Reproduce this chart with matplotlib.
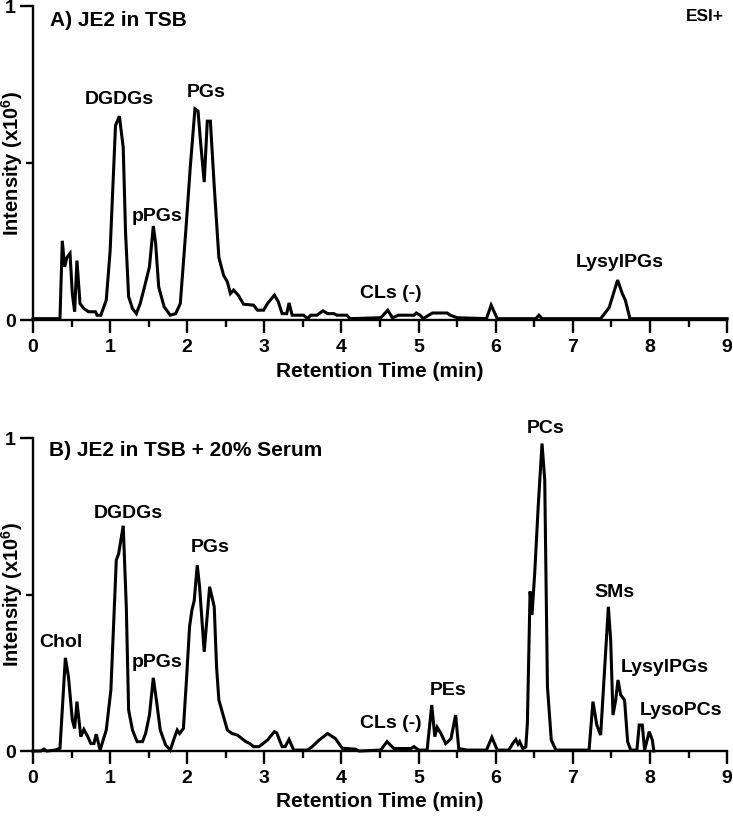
import matplotlib
matplotlib.use("Agg")
import matplotlib.pyplot as plt
from matplotlib.ticker import MultipleLocator

plt.rcParams['font.family'] = ['Liberation Sans', 'DejaVu Sans']
plt.rcParams['font.weight'] = 'bold'
plt.rcParams['mathtext.fontset'] = 'custom'
plt.rcParams['mathtext.rm'] = 'Liberation Sans:bold'
plt.rcParams['mathtext.bf'] = 'Liberation Sans:bold'

# Panel A: JE2 in TSB (retention time in min, intensity x10^6)
time_a = [0.00, 0.35, 0.38, 0.41, 0.44, 0.48, 0.51, 0.54, 0.57, 0.61,
          0.66, 0.72, 0.81, 0.83, 0.88, 0.95, 1.00, 1.07, 1.12, 1.17,
          1.20, 1.24, 1.29, 1.34, 1.39, 1.45, 1.51, 1.56, 1.59, 1.63,
          1.70, 1.78, 1.85, 1.91, 1.98, 2.04, 2.10, 2.14, 2.17, 2.22,
          2.26, 2.30, 2.35, 2.41, 2.47, 2.52, 2.56, 2.60, 2.66, 2.73,
          2.86, 2.91, 2.99, 3.04, 3.13, 3.18, 3.23, 3.29, 3.32, 3.36,
          3.51, 3.56, 3.60, 3.68, 3.76, 3.82, 3.90, 3.94, 4.07, 4.11,
          4.51, 4.60, 4.66, 4.74, 4.94, 4.97, 5.02, 5.06, 5.13, 5.18,
          5.37, 5.41, 5.50, 5.88, 5.94, 6.02, 6.52, 6.56, 6.60, 7.36,
          7.47, 7.58, 7.64, 7.68, 7.74, 9.00]
int_a = [0.005, 0.005, 0.253, 0.170, 0.200, 0.213, 0.085, 0.027, 0.190, 0.053,
         0.037, 0.027, 0.027, 0.016, 0.016, 0.064, 0.220, 0.620, 0.650, 0.550,
         0.280, 0.075, 0.037, 0.021, 0.053, 0.110, 0.170, 0.300, 0.245, 0.106,
         0.043, 0.016, 0.021, 0.053, 0.280, 0.490, 0.673, 0.666, 0.575, 0.440,
         0.634, 0.634, 0.426, 0.200, 0.144, 0.122, 0.085, 0.096, 0.080, 0.051,
         0.048, 0.032, 0.032, 0.053, 0.080, 0.059, 0.021, 0.021, 0.055, 0.016,
         0.016, 0.005, 0.016, 0.016, 0.030, 0.021, 0.021, 0.016, 0.016, 0.005,
         0.008, 0.032, 0.008, 0.016, 0.016, 0.023, 0.016, 0.005, 0.016, 0.023,
         0.023, 0.016, 0.008, 0.005, 0.048, 0.005, 0.005, 0.016, 0.005, 0.005,
         0.040, 0.128, 0.085, 0.064, 0.005, 0.005]

# Panel B: JE2 in TSB + 20% serum
time_b = [0.00, 0.10, 0.14, 0.18, 0.29, 0.35, 0.42, 0.46, 0.51, 0.54,
          0.57, 0.62, 0.66, 0.71, 0.75, 0.79, 0.82, 0.87, 0.95, 1.01,
          1.08, 1.11, 1.17, 1.21, 1.24, 1.29, 1.35, 1.42, 1.46, 1.51,
          1.56, 1.60, 1.65, 1.72, 1.78, 1.83, 1.87, 1.90, 1.95, 1.99,
          2.03, 2.06, 2.09, 2.13, 2.16, 2.22, 2.29, 2.35, 2.38, 2.41,
          2.47, 2.52, 2.58, 2.65, 2.76, 2.81, 2.86, 2.93, 3.04, 3.13,
          3.16, 3.23, 3.27, 3.32, 3.38, 3.56, 3.62, 3.71, 3.82, 3.92,
          4.01, 4.18, 4.23, 4.51, 4.59, 4.68, 4.90, 4.94, 5.00, 5.11,
          5.17, 5.21, 5.24, 5.29, 5.35, 5.38, 5.42, 5.48, 5.52, 5.63,
          5.88, 5.95, 6.02, 6.17, 6.22, 6.26, 6.29, 6.31, 6.35, 6.39,
          6.41, 6.445, 6.47, 6.505, 6.55, 6.60, 6.635, 6.67, 6.72, 6.78,
          7.21, 7.26, 7.31, 7.36, 7.40, 7.46, 7.49, 7.52, 7.555, 7.585,
          7.62, 7.67, 7.71, 7.75, 7.83, 7.86, 7.90, 7.93, 7.99, 8.03,
          8.05]
int_b = [0.0, 0.0, 0.006, 0.0, 0.003, 0.009, 0.298, 0.237, 0.099, 0.072,
         0.158, 0.046, 0.069, 0.046, 0.024, 0.024, 0.054, 0.003, 0.067, 0.195,
         0.610, 0.630, 0.720, 0.460, 0.131, 0.067, 0.030, 0.030, 0.056, 0.115,
         0.234, 0.163, 0.067, 0.019, 0.003, 0.040, 0.067, 0.056, 0.072, 0.227,
         0.397, 0.450, 0.480, 0.594, 0.525, 0.317, 0.525, 0.461, 0.270, 0.163,
         0.110, 0.067, 0.056, 0.051, 0.030, 0.024, 0.014, 0.014, 0.035, 0.062,
         0.058, 0.014, 0.014, 0.037, 0.003, 0.003, 0.014, 0.035, 0.056, 0.040,
         0.009, 0.006, 0.0, 0.003, 0.030, 0.008, 0.008, 0.014, 0.003, 0.003,
         0.147, 0.046, 0.076, 0.056, 0.024, 0.030, 0.040, 0.115, 0.008, 0.003,
         0.003, 0.044, 0.003, 0.003, 0.024, 0.037, 0.022, 0.030, 0.008, 0.013,
         0.088, 0.510, 0.435, 0.568, 0.780, 0.983, 0.866, 0.206, 0.035, 0.003,
         0.003, 0.158, 0.083, 0.051, 0.216, 0.461, 0.355, 0.115, 0.163, 0.227,
         0.179, 0.163, 0.030, 0.003, 0.003, 0.083, 0.083, 0.003, 0.062, 0.035,
         0.0]

# peak labels (text, time, intensity)
labels_a = ["DGDGs", "PGs", "pPGs", "CLs (-)", "LysylPGs"]
lab_x_a = [1.12, 2.25, 1.61, 4.64, 7.61]
lab_y_a = [0.703, 0.725, 0.329, 0.086, 0.185]

labels_b = ["Chol", "DGDGs", "PGs", "pPGs", "CLs (-)", "PEs", "PCs", "SMs", "LysylPGs", "LysoPCs"]
lab_x_b = [0.36, 1.23, 2.30, 1.61, 4.64, 5.38, 6.65, 7.54, 8.19, 8.40]
lab_y_b = [0.348, 0.760, 0.652, 0.284, 0.089, 0.195, 1.030, 0.508, 0.268, 0.131]

fig = plt.figure(figsize=(7.33, 8.19), dpi=100)
ax_a = fig.add_axes([0.045, 0.609, 0.947, 0.3834])
ax_b = fig.add_axes([0.045, 0.083, 0.947, 0.382])


def style_axis(ax):
    ax.set_xlim(0, 9)
    ax.set_ylim(0, 1)
    for s in ['top', 'right']:
        ax.spines[s].set_visible(False)
    for s in ['left', 'bottom']:
        ax.spines[s].set_linewidth(1.7)
    ax.xaxis.set_major_locator(MultipleLocator(1))
    ax.xaxis.set_minor_locator(MultipleLocator(0.5))
    ax.set_yticks([0, 1])
    ax.set_yticklabels(["0", "1"])
    ax.yaxis.set_minor_locator(MultipleLocator(0.5))
    ax.tick_params(which='major', length=9.5, width=1.7, labelsize=14, pad=4)
    ax.tick_params(which='minor', length=5, width=1.7)
    ax.tick_params(axis='y', which='major', pad=3)
    for lbl in ax.get_xticklabels() + ax.get_yticklabels():
        lbl.set_fontweight('bold')
    ax.set_xlabel("Retention Time (min)", fontsize=15, fontweight='bold', labelpad=4)
    ax.set_ylabel(r"Intensity (x10$^{\mathbf{6}}$)", fontsize=14.5, fontweight='bold')
    # label sits just left of the axis, over the tick-label column
    ax.yaxis.set_label_coords(-0.012, 0.5)


ax_a.plot(time_a, int_a, color='black', lw=2.2, clip_on=False, solid_joinstyle='miter')
style_axis(ax_a)
ax_a.text(0.22, 0.955, "A) JE2 in TSB", fontsize=15, fontweight='bold', ha='left', va='center')
ax_a.text(8.96, 0.968, "ESI+", fontsize=12.5, fontweight='bold', ha='right', va='center')
for t, x, y in zip(labels_a, lab_x_a, lab_y_a):
    ax_a.text(x, y, t, fontsize=14, fontweight='bold', ha='center', va='center')

ax_b.plot(time_b, int_b, color='black', lw=2.2, clip_on=False, solid_joinstyle='miter')
style_axis(ax_b)
ax_b.text(0.21, 0.962, "B) JE2 in TSB + 20% Serum", fontsize=15, fontweight='bold', ha='left', va='center')
for t, x, y in zip(labels_b, lab_x_b, lab_y_b):
    ax_b.text(x, y, t, fontsize=14, fontweight='bold', ha='center', va='center', clip_on=False)

fig.savefig("out.png", dpi=100)
